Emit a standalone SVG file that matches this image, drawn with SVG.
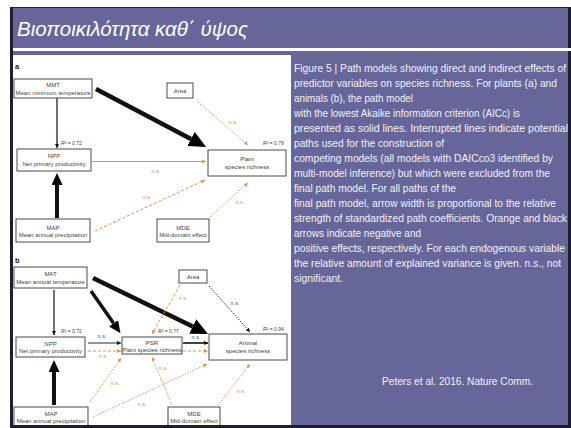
<svg xmlns="http://www.w3.org/2000/svg" width="571" height="428" viewBox="0 0 571 428">
  <style>
    .box { fill: #ffffff; stroke: #4a4a4a; stroke-width: 1; }
    .nt { font-family: "Liberation Sans", Arial, sans-serif; font-size: 6px; fill: #444444; text-anchor: middle; }
    .ns { font-family: "Liberation Sans", Arial, sans-serif; font-size: 5.5px; fill: #555555; text-anchor: middle; }
    .ns-o { font-family: "Liberation Sans", Arial, sans-serif; font-size: 5.5px; fill: #e58a3c; text-anchor: middle; }
    .r2 { font-family: "Liberation Sans", Arial, sans-serif; font-size: 5px; fill: #444444; }
    .lab { font-family: "Liberation Sans", Arial, sans-serif; font-size: 7.5px; font-weight: bold; fill: #222222; }
    .cap { font-family: "Liberation Sans", Arial, sans-serif; font-size: 10.3px; fill: #f2f2f7; }
    .k { stroke: #111111; fill: none; }
    .o { stroke: #e8914a; fill: none; stroke-width: 1; }
    .dot { stroke-dasharray: 1.3 1.3; }
    .dash { stroke-dasharray: 3 2; }
  </style>
  <defs>
    <marker id="hk" markerUnits="userSpaceOnUse" markerWidth="5" markerHeight="5" refX="4" refY="2" orient="auto">
      <path d="M0,0 L4,2 L0,4 Z" fill="#111111"/>
    </marker>
    <marker id="ho" markerUnits="userSpaceOnUse" markerWidth="5" markerHeight="5" refX="4" refY="2" orient="auto">
      <path d="M0,0 L4,2 L0,4 Z" fill="#e8914a"/>
    </marker>
    <marker id="hbig" markerUnits="userSpaceOnUse" markerWidth="18" markerHeight="17" refX="0" refY="8" orient="auto">
      <path d="M0,0 L17,8 L0,16 Z" fill="#000000"/>
    </marker>
    <marker id="hmed" markerUnits="userSpaceOnUse" markerWidth="13" markerHeight="12" refX="0" refY="5.5" orient="auto">
      <path d="M0,0 L12,5.5 L0,11 Z" fill="#000000"/>
    </marker>
  </defs>

  <!-- slide frame -->
  <rect x="0" y="0" width="571" height="428" fill="#ffffff"/>
  <rect x="10" y="7" width="561" height="421" fill="#1e1e2c"/>
  <rect x="13" y="8" width="555" height="417" fill="#66669a"/>
  <rect x="13" y="48" width="558" height="3" fill="#ffffff"/>
  <rect x="13" y="55" width="278" height="370" fill="#ffffff"/>

  <text x="17" y="36" font-family="Liberation Sans, Arial, sans-serif" font-size="21" font-style="italic" fill="#ffffff" textLength="231" lengthAdjust="spacingAndGlyphs">Βιοποικιλότητα καθ΄ ύψος</text>

  <!-- panel labels and explained variance -->
  <text class="lab" x="15" y="69">a</text>
  <text class="lab" x="15" y="263">b</text>
  <text class="r2" x="61" y="145"><tspan font-style="italic">R</tspan>² = 0.72</text>
  <text class="r2" x="263" y="145"><tspan font-style="italic">R</tspan>² = 0.79</text>
  <text class="r2" x="61" y="333"><tspan font-style="italic">R</tspan>² = 0.72</text>
  <text class="r2" x="158" y="333"><tspan font-style="italic">R</tspan>² = 0.77</text>
  <text class="r2" x="263" y="331"><tspan font-style="italic">R</tspan>² = 0.94</text>

  <!-- connectors -->
  <g id="connectors">
    <!-- panel a -->
    <line class="k" x1="57" y1="98" x2="57" y2="148" stroke-width="1.2" marker-end="url(#hk)"/>
    <line class="k" x1="96" y1="89" x2="191" y2="139" stroke-width="4.5" marker-end="url(#hbig)"/>
    <line class="o dot" x1="198" y1="102" x2="248" y2="145" marker-end="url(#ho)"/>
    <text class="ns-o" x="233" y="124">n.s.</text>
    <line class="o" x1="92" y1="161.5" x2="206" y2="161.5" marker-end="url(#ho)"/>
    <text class="ns-o" x="156" y="173">n.s.</text>
    <line class="o dash" x1="95" y1="231" x2="205" y2="180" marker-end="url(#ho)"/>
    <text class="ns-o" x="147" y="199">n.s.</text>
    <line class="o dot" x1="210" y1="217" x2="248" y2="183" marker-end="url(#ho)"/>
    <text class="ns-o" x="240" y="204">n.s.</text>
    <line class="k" x1="57" y1="218" x2="57" y2="185" stroke-width="4" marker-end="url(#hmed)"/>

    <!-- panel b -->
    <line class="k" x1="54" y1="290" x2="54" y2="335" stroke-width="1.2" marker-end="url(#hk)"/>
    <line class="k" x1="91" y1="291" x2="113.6" y2="323.3" stroke-width="3.5" marker-end="url(#hmed)"/>
    <line class="k" x1="93" y1="278" x2="192.7" y2="326.5" stroke-width="4.5" marker-end="url(#hbig)"/>
    <line class="o dash" x1="180" y1="285" x2="152" y2="334" marker-end="url(#ho)"/>
    <text class="ns-o" x="183" y="300">n.s.</text>
    <line class="k dot" x1="209" y1="286" x2="250" y2="332" stroke-width="0.9" marker-end="url(#hk)"/>
    <text class="ns" x="235" y="305">n.s.</text>
    <line class="k" x1="88" y1="343" x2="121" y2="343" stroke-width="0.9" marker-end="url(#hk)"/>
    <text class="ns" x="102" y="338">n.s.</text>
    <line class="o dash" x1="88" y1="351" x2="121" y2="351" marker-end="url(#ho)"/>
    <text class="ns-o" x="103" y="358">n.s.</text>
    <line class="k" x1="183" y1="343" x2="208" y2="343" stroke-width="1.6" marker-end="url(#hk)"/>
    <text class="ns" x="196" y="339">n.s.</text>
    <line class="o dash" x1="183" y1="351" x2="208" y2="351" marker-end="url(#ho)"/>
    <line class="k" x1="54" y1="405" x2="54" y2="372" stroke-width="4" marker-end="url(#hmed)"/>
    <line class="o dot" x1="90" y1="402" x2="121" y2="358" marker-end="url(#ho)"/>
    <text class="ns-o" x="115" y="385">n.s.</text>
    <line class="o dot" x1="93" y1="417" x2="207" y2="364" marker-end="url(#ho)"/>
    <text class="ns-o" x="142" y="406">n.s.</text>
    <line class="o dot" x1="172" y1="405" x2="152" y2="357" marker-end="url(#ho)"/>
    <text class="ns-o" x="163" y="370">n.s.</text>
    <line class="o dot" x1="218" y1="405" x2="250" y2="364" marker-end="url(#ho)"/>
    <text class="ns-o" x="241" y="393">n.s.</text>
  </g>

  <!-- panel a nodes -->
  <g id="a-mmt">
    <rect class="box" x="14" y="79" width="78" height="19"/>
    <text class="nt" x="53" y="87">MMT</text>
    <text class="nt" x="53" y="94.5">Mean minimum temperature</text>
  </g>
  <g id="a-area">
    <rect class="box" x="167" y="83" width="26" height="15"/>
    <text class="nt" x="180" y="92.5">Area</text>
  </g>
  <g id="a-npp">
    <rect class="box" x="17" y="149" width="74" height="22"/>
    <text class="nt" x="54" y="158">NPP</text>
    <text class="nt" x="54" y="165.5">Net primary productivity</text>
  </g>
  <g id="a-plant">
    <rect class="box" x="208" y="150" width="78" height="26"/>
    <text class="nt" x="247" y="161">Plant</text>
    <text class="nt" x="247" y="168.5">species richness</text>
  </g>
  <g id="a-map">
    <rect class="box" x="16" y="219" width="74" height="23"/>
    <text class="nt" x="53" y="229.5">MAP</text>
    <text class="nt" x="53" y="237">Mean annual precipitation</text>
  </g>
  <g id="a-mde">
    <rect class="box" x="157" y="219" width="52" height="23"/>
    <text class="nt" x="183" y="229.5">MDE</text>
    <text class="nt" x="183" y="237">Mid-domain effect</text>
  </g>

  <!-- panel b nodes -->
  <g id="b-mat">
    <rect class="box" x="14" y="267" width="73" height="21"/>
    <text class="nt" x="50.5" y="276">MAT</text>
    <text class="nt" x="50.5" y="283.5">Mean annual temperature</text>
  </g>
  <g id="b-area">
    <rect class="box" x="179" y="270" width="28" height="13"/>
    <text class="nt" x="193" y="278.5">Area</text>
  </g>
  <g id="b-npp">
    <rect class="box" x="16" y="337" width="69" height="20"/>
    <text class="nt" x="50.5" y="345.5">NPP</text>
    <text class="nt" x="50.5" y="352.5">Net primary productivity</text>
  </g>
  <g id="b-psr">
    <rect class="box" x="122" y="337" width="60" height="17"/>
    <text class="nt" x="152" y="344.5">PSR</text>
    <text class="nt" x="152" y="351.5" font-size="5.5">Plant species richness</text>
  </g>
  <g id="b-animal">
    <rect class="box" x="209" y="334" width="78" height="26"/>
    <text class="nt" x="248" y="345">Animal</text>
    <text class="nt" x="248" y="352.5">species richness</text>
  </g>
  <g id="b-map">
    <rect class="box" x="14" y="407" width="74" height="24"/>
    <text class="nt" x="51" y="415.5">MAP</text>
    <text class="nt" x="51" y="423">Mean annual precipitation</text>
  </g>
  <g id="b-mde">
    <rect class="box" x="168" y="407" width="52" height="24"/>
    <text class="nt" x="194" y="415.5">MDE</text>
    <text class="nt" x="194" y="423">Mid-domain effect</text>
  </g>

  <!-- bottom frame edge drawn over the cut-off boxes -->
  <rect x="10" y="425" width="561" height="3" fill="#1e1e2c"/>

  <!-- caption -->
  <g id="caption" class="cap">
    <text class="cap" x="294" y="71.5" textLength="272" lengthAdjust="spacingAndGlyphs">Figure 5 | Path models showing direct and indirect effects of</text>
    <text class="cap" x="294" y="86.55" textLength="263" lengthAdjust="spacingAndGlyphs">predictor variables on species richness. For plants (a) and</text>
    <text class="cap" x="294" y="101.6" textLength="119" lengthAdjust="spacingAndGlyphs">animals (b), the path model</text>
    <text class="cap" x="294" y="116.65" textLength="226" lengthAdjust="spacingAndGlyphs">with the lowest Akaike information criterion (AICc) is</text>
    <text class="cap" x="294" y="131.7" textLength="274" lengthAdjust="spacingAndGlyphs">presented as solid lines. Interrupted lines indicate potential</text>
    <text class="cap" x="294" y="146.75" textLength="150" lengthAdjust="spacingAndGlyphs">paths used for the construction of</text>
    <text class="cap" x="294" y="161.8" textLength="259" lengthAdjust="spacingAndGlyphs">competing models (all models with DAICco3 identified by</text>
    <text class="cap" x="294" y="176.85" textLength="256" lengthAdjust="spacingAndGlyphs">multi-model inference) but which were excluded from the</text>
    <text class="cap" x="294" y="191.9" textLength="162" lengthAdjust="spacingAndGlyphs">final path model. For all paths of the</text>
    <text class="cap" x="294" y="206.95" textLength="262" lengthAdjust="spacingAndGlyphs">final path model, arrow width is proportional to the relative</text>
    <text class="cap" x="294" y="222" textLength="273" lengthAdjust="spacingAndGlyphs">strength of standardized path coefficients. Orange and black</text>
    <text class="cap" x="294" y="237.05" textLength="127" lengthAdjust="spacingAndGlyphs">arrows indicate negative and</text>
    <text class="cap" x="294" y="252.1" textLength="271" lengthAdjust="spacingAndGlyphs">positive effects, respectively. For each endogenous variable</text>
    <text class="cap" x="294" y="267.15" textLength="267" lengthAdjust="spacingAndGlyphs">the relative amount of explained variance is given. n.s., not</text>
    <text class="cap" x="294" y="282.2" textLength="49" lengthAdjust="spacingAndGlyphs">significant.</text>
    <text class="cap" x="382" y="385" textLength="151" lengthAdjust="spacingAndGlyphs">Peters et al. 2016. Nature Comm.</text>
  </g>
</svg>
